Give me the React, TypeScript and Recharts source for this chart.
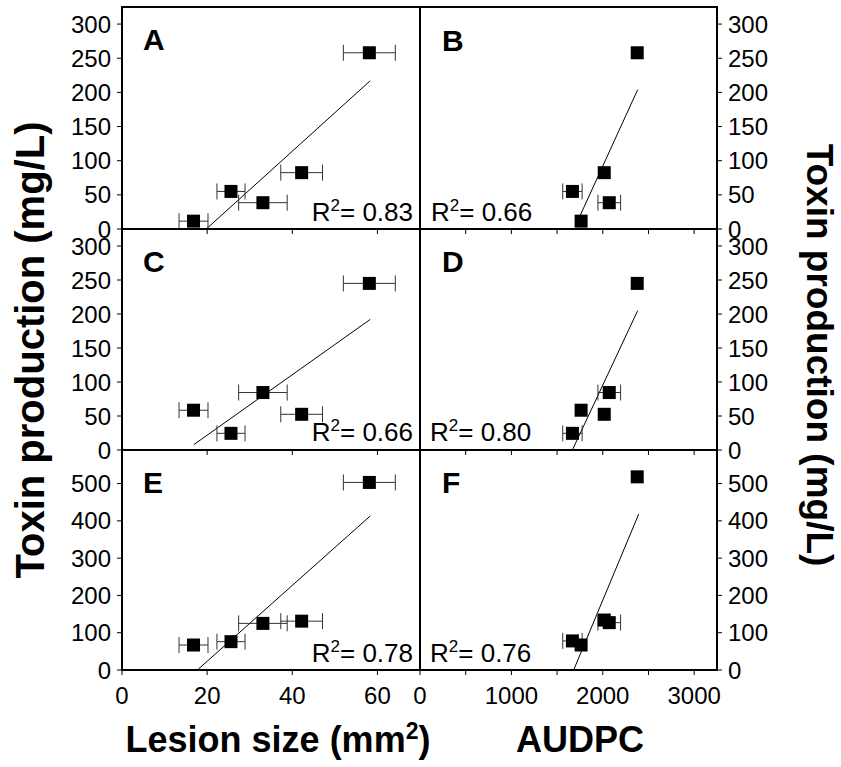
import React from 'react';
import { ScatterChart, Scatter, XAxis, YAxis, ErrorBar, ReferenceLine, ReferenceArea } from 'recharts';

const FONT = '"Liberation Sans", Arial, Helvetica, sans-serif';
const W = 841;
const H = 767;

// the five isolates, same order in every panel
const lesionSize = [58.1, 42.2, 25.6, 33.1, 16.8];
const lesionErr = [6.1, 4.9, 3.3, 5.7, 3.4];
const audpc = [2377, 2016, 1668, 2071, 1763];
const audpcErr = [0, 0, 106, 124, 0];

// toxin production (mg/L) per panel
const toxinAB = [258, 82.5, 55, 38.5, 11.5];
const toxinCD = [245, 52.5, 24.5, 84.5, 58.5];
const toxinE = [503, 131, 76, 125, 67];
const toxinF = [518, 134, 78, 127, 67];

// regression line end points
const fitA = [{ x: 19.8, y: 0 }, { x: 58.3, y: 217 }];
const fitB = [{ x: 1750, y: 19 }, { x: 2382, y: 204 }];
const fitC = [{ x: 16.9, y: 8 }, { x: 58.3, y: 192 }];
const fitD = [{ x: 1671, y: 1 }, { x: 2382, y: 205 }];
const fitE = [{ x: 17.9, y: 2 }, { x: 58.3, y: 413 }];
const fitF = [{ x: 1685, y: 2 }, { x: 2393, y: 418 }];

const r2Values = ['0.83', '0.66', '0.66', '0.80', '0.78', '0.76'];
const letters = ['A', 'B', 'C', 'D', 'E', 'F'];

const lesionTicks = [0, 20, 40, 60];
const audpcTicks = [0, 500, 1000, 1500, 2000, 2500, 3000];
const toxinTicks = [0, 50, 100, 150, 200, 250, 300];
const toxinTicksHigh = [0, 100, 200, 300, 400, 500];

// plot box edges in px
const COLS = [122, 420, 717];
const ROWS = [7, 229, 450, 670];

const panels = [
  { col: 0, row: 0, toxin: toxinAB, fit: fitA, yMax: 325, yTicks: toxinTicks },
  { col: 1, row: 0, toxin: toxinAB, fit: fitB, yMax: 325, yTicks: toxinTicks },
  { col: 0, row: 1, toxin: toxinCD, fit: fitC, yMax: 325, yTicks: toxinTicks },
  { col: 1, row: 1, toxin: toxinCD, fit: fitD, yMax: 325, yTicks: toxinTicks },
  { col: 0, row: 2, toxin: toxinE, fit: fitE, yMax: 590, yTicks: toxinTicksHigh },
  { col: 1, row: 2, toxin: toxinF, fit: fitF, yMax: 590, yTicks: toxinTicksHigh },
];

const Square = (props: any) => (
  <rect x={props.cx - 6.5} y={props.cy - 6.5} width={13} height={13} fill="#000" />
);

const tickStyle = { fontSize: 24, fill: '#000', fontFamily: FONT };

function Panel({ p }: { p: any }) {
  const left = p.col === 0;
  const x0 = COLS[p.col];
  const x1 = COLS[p.col + 1];
  const y0 = ROWS[p.row];
  const y1 = ROWS[p.row + 1];
  const xs = left ? lesionSize : audpc;
  const xe = left ? lesionErr : audpcErr;
  const data = xs.map((x, i) => ({ x, y: p.toxin[i], xe: xe[i] }));
  const bottomRow = p.row === 2;
  const xMax = left ? 70 : 3250;
  const AXW = 60;
  const AXH = 40;
  const margin = {
    top: y0,
    bottom: H - y1 - AXH,
    left: left ? x0 - AXW : x0,
    right: left ? W - x1 : W - x1 - AXW,
  };
  const fmtX = (v: number) => {
    if (!bottomRow) return '';
    if (left) return String(v);
    return v % 1000 === 0 ? String(v) : '';
  };

  return (
    <div style={{ position: 'absolute', left: 0, top: 0 }}>
      <ScatterChart width={W} height={H} margin={margin}>
        <XAxis
          type="number"
          dataKey="x"
          domain={[0, xMax]}
          ticks={left ? lesionTicks : audpcTicks}
          interval={0}
          allowDataOverflow
          height={AXH}
          tickSize={5}
          tickMargin={12}
          axisLine={{ stroke: '#000', strokeWidth: 2 }}
          tickLine={{ stroke: '#000' }}
          tick={tickStyle}
          tickFormatter={fmtX}
        />
        <YAxis
          type="number"
          dataKey="y"
          orientation={left ? 'left' : 'right'}
          width={AXW}
          domain={[0, p.yMax]}
          ticks={p.yTicks}
          interval={0}
          allowDataOverflow
          tickSize={5}
          tickMargin={6}
          axisLine={{ stroke: '#000', strokeWidth: 2 }}
          tickLine={{ stroke: '#000' }}
          tick={tickStyle}
        />
        <ReferenceArea
          x1={0}
          x2={xMax}
          y1={0}
          y2={p.yMax}
          fill="none"
          fillOpacity={0}
          stroke="#000"
          strokeWidth={2}
        />
        <ReferenceLine segment={p.fit} stroke="#000" strokeWidth={1} />
        <Scatter data={data} shape={Square} isAnimationActive={false}>
          <ErrorBar dataKey="xe" direction="x" width={8} stroke="#333" strokeWidth={1} isAnimationActive={false} />
        </Scatter>
      </ScatterChart>
    </div>
  );
}

// text positions for panel letters and R² labels
const letterPos = [[143, 50], [442, 51], [143, 272], [442, 272], [143, 493], [442, 493]];
const r2Pos = [[413, 221], [431, 221], [413, 441], [430, 441], [413, 662], [430, 662]];

function Overlay() {
  return (
    <svg width={W} height={H} style={{ position: 'absolute', left: 0, top: 0, pointerEvents: 'none' }} fontFamily={FONT}>
      {letters.map((l, i) => (
        <text key={l} x={letterPos[i][0]} y={letterPos[i][1]} fontSize={30} fontWeight="bold" fill="#000">
          {l}
        </text>
      ))}
      {r2Values.map((r, i) => (
        <text
          key={i}
          x={r2Pos[i][0]}
          y={r2Pos[i][1]}
          fontSize={26}
          fill="#000"
          textAnchor={i % 2 === 0 ? 'end' : 'start'}
        >
          R<tspan dy={-10} fontSize={17}>2</tspan>
          <tspan dy={10}>= {r}</tspan>
        </text>
      ))}
      <text x={44} y={350} transform="rotate(-90 44 350)" textAnchor="middle" fontSize={40} fontWeight="bold" fill="#000">
        Toxin production (mg/L)
      </text>
      <text x={807} y={355} transform="rotate(90 807 355)" textAnchor="middle" fontSize={37} fontWeight="bold" fill="#000">
        Toxin production (mg/L)
      </text>
      <text x={278} y={752} textAnchor="middle" fontSize={36} fontWeight="bold" fill="#000">
        Lesion size (mm<tspan dy={-13} fontSize={23}>2</tspan>
        <tspan dy={13}>)</tspan>
      </text>
      <text x={580} y={752} textAnchor="middle" fontSize={36} fontWeight="bold" fill="#000">
        AUDPC
      </text>
    </svg>
  );
}

export default function App() {
  return (
    <div style={{ position: 'absolute', left: 0, top: 0, width: W, height: H, background: '#fff', fontFamily: FONT }}>
      {panels.map((p, i) => (
        <Panel key={i} p={p} />
      ))}
      <Overlay />
    </div>
  );
}
